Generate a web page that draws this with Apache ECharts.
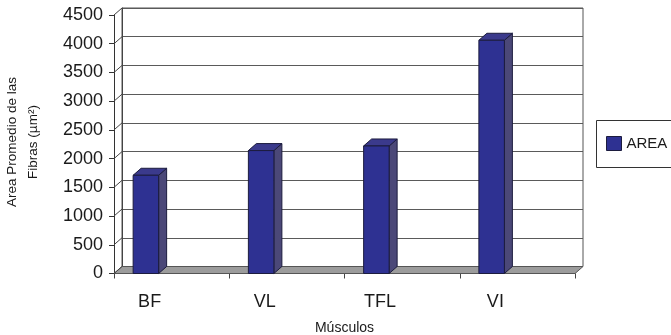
<!DOCTYPE html>
<html>
<head>
<meta charset="utf-8">
<script src="https://cdn.jsdelivr.net/npm/echarts@6/dist/echarts.min.js"></script>
<style>
  html, body { margin: 0; padding: 0; background: #fff; }
  #chart { width: 671px; height: 335px; }
</style>
</head>
<body>
<div id="chart"></div>
<script>
// Muscle categories and mean fibre area
const CATEGORIES = ['BF', 'VL', 'TFL', 'VI'];
const AREA = [1710, 2140, 2220, 4060];
const Y_TICKS = [0, 500, 1000, 1500, 2000, 2500, 3000, 3500, 4000, 4500];
const SERIES_NAME = 'AREA';
const Y_TITLE = 'Area Promedio de las\nFibras (µm²)';
const X_TITLE = 'Músculos';

// Layout of the pseudo-3D box
const FRONT = { left: 114, top: 15, width: 461, height: 258.5 };
const DEPTH_X = 8;
const DEPTH_Y = 7;
const BAR_W = 25.5;
const BAR_SHIFT = -38.5;   // bar's left edge relative to category centre
const FONT = "'Liberation Sans', Arial, sans-serif";
const TEXT = '#1a1a1a';

const chart = echarts.init(document.getElementById('chart'), null, { renderer: 'canvas' });

function renderBar(params, api) {
  const idx = api.value(0);
  const top = api.coord([idx, api.value(1)]);
  const base = api.coord([idx, 0]);
  const x0 = top[0] + BAR_SHIFT;
  const x1 = x0 + BAR_W;
  const yt = top[1];
  const yb = base[1];
  const stroke = '#1c1c3e';
  return {
    type: 'group',
    children: [
      { type: 'polygon', shape: { points: [[x1, yb], [x1, yt], [x1 + DEPTH_X, yt - DEPTH_Y], [x1 + DEPTH_X, yb - DEPTH_Y]] },
        style: { fill: '#4b4878', stroke: stroke, lineWidth: 1 } },
      { type: 'polygon', shape: { points: [[x0, yt], [x1, yt], [x1 + DEPTH_X, yt - DEPTH_Y], [x0 + DEPTH_X, yt - DEPTH_Y]] },
        style: { fill: '#3b3a8c', stroke: stroke, lineWidth: 1 } },
      { type: 'rect', shape: { x: x0, y: yt, width: BAR_W, height: yb - yt },
        style: { fill: '#2e3192', stroke: stroke, lineWidth: 1 } }
    ]
  };
}

// Floor slab and the short connectors on the left side wall
function renderFrame(params, api) {
  const cs = params.coordSys;
  const v = api.value(0);
  const y = api.coord([0, v])[1];
  const xl = cs.x;
  const children = [
    { type: 'line', shape: { x1: xl, y1: y, x2: xl + DEPTH_X, y2: y - DEPTH_Y },
      style: { stroke: '#444', lineWidth: 1 } }
  ];
  if (v === 0) {
    const xr = cs.x + cs.width;
    children.unshift({
      type: 'polygon',
      shape: { points: [[xl, y], [xr, y], [xr + DEPTH_X, y - DEPTH_Y], [xl + DEPTH_X, y - DEPTH_Y]] },
      style: { fill: '#9c9c9c', stroke: '#555', lineWidth: 1 }
    });
  }
  return { type: 'group', children: children };
}

const option = {
  animation: false,
  backgroundColor: '#fff',
  grid: [
    { left: FRONT.left, top: FRONT.top, width: FRONT.width, height: FRONT.height,
      containLabel: false, outerBoundsMode: 'none' },
    { left: FRONT.left + DEPTH_X, top: FRONT.top - DEPTH_Y, width: FRONT.width, height: FRONT.height,
      containLabel: false, outerBoundsMode: 'none',
      show: true, backgroundColor: '#fff', borderColor: '#555', borderWidth: 1 }
  ],
  xAxis: [
    {
      type: 'category', gridIndex: 0, data: CATEGORIES,
      axisLine: { show: true, lineStyle: { color: '#444', width: 1 } },
      axisTick: { show: true, length: 5, lineStyle: { color: '#444' } },
      axisLabel: { color: TEXT, fontFamily: FONT, fontSize: 18, margin: 20, padding: [0, 44, 0, 0] },
      name: X_TITLE, nameLocation: 'middle', nameGap: 48,
      nameTextStyle: { color: TEXT, fontFamily: FONT, fontSize: 14 }
    },
    {
      type: 'category', gridIndex: 1, data: CATEGORIES, show: false
    }
  ],
  yAxis: [
    {
      type: 'value', gridIndex: 0, min: Y_TICKS[0], max: Y_TICKS[Y_TICKS.length - 1],
      interval: Y_TICKS[1] - Y_TICKS[0],
      axisLine: { show: true, lineStyle: { color: '#333', width: 1 } },
      axisTick: { show: true, length: 5, lineStyle: { color: '#333' } },
      axisLabel: { color: TEXT, fontFamily: FONT, fontSize: 18, margin: 11, formatter: v => String(v) },
      splitLine: { show: false }
    },
    {
      type: 'value', gridIndex: 1, min: Y_TICKS[0], max: Y_TICKS[Y_TICKS.length - 1],
      interval: Y_TICKS[1] - Y_TICKS[0],
      axisLine: { show: true, lineStyle: { color: '#444', width: 1 } },
      axisTick: { show: false },
      axisLabel: { show: false },
      splitLine: { show: true, lineStyle: { color: '#5a5a5a', width: 1 } }
    }
  ],
  legend: {
    left: 596, top: 120,
    orient: 'vertical',
    padding: [16, 10, 16, 10],
    itemWidth: 15, itemHeight: 14, itemGap: 5,
    icon: 'rect',
    data: [{ name: SERIES_NAME, itemStyle: { color: '#2e3192', borderColor: '#1c1c3e', borderWidth: 1 } }],
    textStyle: { color: TEXT, fontFamily: FONT, fontSize: 15 }
  },
  graphic: [
    {
      // legend frame, running past the right edge of the canvas
      type: 'rect', left: 596, top: 120, z: 0,
      shape: { width: 110, height: 47 },
      style: { fill: '#fff', stroke: '#333', lineWidth: 1 }
    },
    {
      type: 'text', x: 23, y: 142, rotation: Math.PI / 2,
      style: {
        text: Y_TITLE, align: 'center', verticalAlign: 'middle',
        fill: TEXT, font: '13.5px ' + FONT, lineHeight: 21
      }
    }
  ],
  series: [
    {
      type: 'custom', name: 'frame', xAxisIndex: 0, yAxisIndex: 0, z: 1, silent: true,
      renderItem: renderFrame,
      data: Y_TICKS.map(v => [v]),
      encode: { y: 0 }
    },
    {
      type: 'custom', name: SERIES_NAME, xAxisIndex: 0, yAxisIndex: 0, z: 3,
      itemStyle: { color: '#2e3192' },
      renderItem: renderBar,
      data: AREA.map((v, i) => [i, v]),
      encode: { x: 0, y: 1 }
    }
  ]
};

chart.setOption(option);
</script>
</body>
</html>
